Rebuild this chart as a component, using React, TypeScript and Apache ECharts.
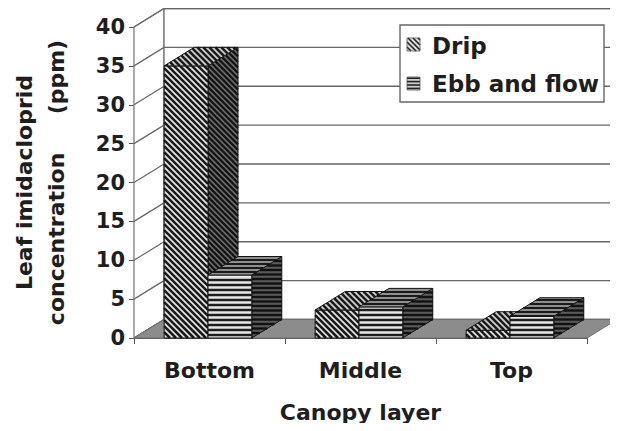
import React, { useEffect, useRef } from "react";
import * as echarts from "echarts";

const categories = ["Bottom", "Middle", "Top"];
const dripValues = [35, 3.6, 1.0];
const ebbValues = [8.1, 4.0, 2.8];
const yTicks = [0, 5, 10, 15, 20, 25, 30, 35, 40];
const seriesNames = ["Drip", "Ebb and flow"];

const DX = 30;
const DY = -18.5;
const FONT = "DejaVu Sans";

type Pt = [number, number];

function clipLine(poly: Pt[], p0: Pt, d: Pt): [number, number] | null {
  let cx = 0, cy = 0;
  poly.forEach((p) => { cx += p[0]; cy += p[1]; });
  cx /= poly.length; cy /= poly.length;
  let t0 = -1e9, t1 = 1e9;
  for (let i = 0; i < poly.length; i++) {
    const a = poly[i];
    const b = poly[(i + 1) % poly.length];
    let nx = -(b[1] - a[1]);
    let ny = b[0] - a[0];
    if (nx * (cx - a[0]) + ny * (cy - a[1]) < 0) { nx = -nx; ny = -ny; }
    const num = nx * (p0[0] - a[0]) + ny * (p0[1] - a[1]);
    const den = nx * d[0] + ny * d[1];
    if (Math.abs(den) < 1e-9) {
      if (num < 0) return null;
    } else {
      const t = -num / den;
      if (den > 0) t0 = Math.max(t0, t); else t1 = Math.min(t1, t);
    }
  }
  if (t1 <= t0) return null;
  return [t0, t1];
}

function hatch(poly: Pt[], kind: "diag" | "horiz", step: number, color: string, width: number) {
  const out: any[] = [];
  const d: Pt = kind === "diag" ? [1, 1] : [1, 0];
  const vals = poly.map((p) => (kind === "diag" ? p[1] - p[0] : p[1]));
  const lo = Math.min(...vals), hi = Math.max(...vals);
  for (let c = Math.ceil(lo / step) * step; c <= hi; c += step) {
    const p0: Pt = [0, c];
    const r = clipLine(poly, p0, d);
    if (!r) continue;
    out.push({
      type: "line",
      shape: { x1: p0[0] + d[0] * r[0], y1: p0[1] + d[1] * r[0], x2: p0[0] + d[0] * r[1], y2: p0[1] + d[1] * r[1] },
      style: { stroke: color, lineWidth: width },
      silent: true,
    });
  }
  return out;
}

function face(poly: Pt[], bg: string, kind: "diag" | "horiz", step: number, lineColor: string, lw: number, edge = "#111", edgeW = 1) {
  return [
    { type: "polygon", shape: { points: poly }, style: { fill: bg, stroke: "none" } },
    ...hatch(poly, kind, step, lineColor, lw),
    { type: "polygon", shape: { points: poly }, style: { fill: "none", stroke: edge, lineWidth: edgeW } },
  ];
}

function makeBarRender(sIdx: number) {
  return (params: any, api: any) => {
    const i = api.value(0);
    const v = api.value(1);
    const base = api.coord([i, 0]);
    const topP = api.coord([i, v]);
    const band = api.size([1, 0])[0];
    const w = band * 0.29;
    const x0 = base[0] - band / 2 + band * 0.2 + sIdx * w;
    const x1 = x0 + w;
    const y0 = base[1];
    const y1 = topP[1];
    const front: Pt[] = [[x0, y1], [x1, y1], [x1, y0], [x0, y0]];
    const top: Pt[] = [[x0, y1], [x1, y1], [x1 + DX, y1 + DY], [x0 + DX, y1 + DY]];
    const side: Pt[] = [[x1, y1], [x1 + DX, y1 + DY], [x1 + DX, y0 + DY], [x1, y0]];
    let children: any[];
    if (sIdx === 0) {
      children = [
        ...face(side, "#6a6a6a", "diag", 5.5, "#111", 2.2),
        ...face(front, "#e6e6e6", "diag", 6, "#1a1a1a", 2.5),
        ...face(top, "#d0d0d0", "diag", 6, "#1a1a1a", 2.5),
      ];
    } else {
      children = [
        ...face(side, "#5a5a5a", "horiz", 4.5, "#111", 2.4),
        ...face(front, "#e8e8e8", "horiz", 5, "#1e1e1e", 2.7),
        ...face(top, "#8f8f8f", "horiz", 4, "#1a1a1a", 2),
      ];
    }
    return { type: "group", children };
  };
}

function wallsRender(params: any, api: any) {
  const cs = params.coordSys;
  const fx = cs.x;
  const W = cs.width;
  const y0 = api.coord([0, yTicks[0]])[1];
  const yTop = api.coord([0, yTicks[yTicks.length - 1]])[1];
  const children: any[] = [];
  children.push({
    type: "polygon",
    shape: { points: [[fx, yTop], [fx + DX, yTop + DY], [fx + DX, y0 + DY], [fx, y0]] },
    style: { fill: "#fff", stroke: "#777", lineWidth: 1.2 },
  });
  children.push({
    type: "rect",
    shape: { x: fx + DX, y: yTop + DY, width: W - 4, height: y0 - yTop },
    style: { fill: "#fff", stroke: "#777", lineWidth: 1.4 },
  });
  yTicks.forEach((t) => {
    const y = api.coord([0, t])[1];
    children.push({
      type: "line",
      shape: { x1: fx + DX, y1: y + DY, x2: fx + DX + W - 4, y2: y + DY },
      style: { stroke: "#666", lineWidth: 1.4 },
    });
    children.push({
      type: "line",
      shape: { x1: fx, y1: y, x2: fx + DX, y2: y + DY },
      style: { stroke: "#666", lineWidth: 1.2 },
    });
  });
  children.push({
    type: "polygon",
    shape: { points: [[fx, y0], [fx + W, y0], [fx + W + DX, y0 + DY], [fx + DX, y0 + DY]] },
    style: { fill: "#8c8c8c", stroke: "#6e6e6e", lineWidth: 1 },
  });
  return { type: "group", children };
}

function legendGraphic() {
  const sw = (x: number, y: number, kind: "diag" | "horiz") =>
    face([[x, y], [x + 13, y], [x + 13, y + 13], [x, y + 13]], kind === "diag" ? "#dcdcdc" : "#cfcfcf", kind, kind === "diag" ? 5 : 3.4, "#222", 1.6, "#555", 0.8);
  const els: any[] = [
    { type: "rect", shape: { x: 400, y: 25, width: 204, height: 77 }, style: { fill: "#fff", stroke: "#666", lineWidth: 1.4 } },
    ...sw(407, 38, "diag"),
    ...sw(407, 77, "horiz"),
    { type: "text", x: 432, y: 46, style: { text: seriesNames[0], font: `bold 23px "${FONT}"`, fill: "#1e1e1e", verticalAlign: "middle", align: "left" } },
    { type: "text", x: 432, y: 84, style: { text: seriesNames[1], font: `bold 23px "${FONT}"`, fill: "#1e1e1e", verticalAlign: "middle", align: "left" } },
  ];
  return els.map((e, k) => ({ ...e, z: 100 + k }));
}

export default function App() {
  const ref = useRef<HTMLDivElement>(null);
  useEffect(() => {
    if (!ref.current) return;
    const chart = echarts.init(ref.current, null, { renderer: "svg" });
    chart.setOption({
      animation: false,
      backgroundColor: "#fff",
      grid: { left: 128, right: 31, top: 27, bottom: 93, containLabel: false },
      xAxis: {
        type: "category",
        data: categories,
        name: "Canopy layer",
        nameLocation: "middle",
        nameGap: 63,
        nameTextStyle: { fontFamily: FONT, fontWeight: "bold", fontSize: 22, color: "#1e1e1e" },
        axisLine: { show: true, lineStyle: { color: "#555", width: 1 } },
        axisTick: { show: true, length: 6, lineStyle: { color: "#555" } },
        axisLabel: { fontFamily: FONT, fontWeight: "bold", fontSize: 22, color: "#1e1e1e", margin: 21 },
        splitLine: { show: false },
      },
      yAxis: {
        type: "value",
        min: 0,
        max: 40,
        interval: 5,
        name: "Leaf imidacloprid\nconcentration     (ppm)",
        nameLocation: "middle",
        nameRotate: 90,
        nameGap: 62,
        nameTextStyle: { fontFamily: FONT, fontWeight: "bold", fontSize: 22, color: "#1e1e1e", lineHeight: 32 },
        axisLine: { show: true, lineStyle: { color: "#555", width: 1.2 } },
        axisTick: { show: true, length: 5, lineStyle: { color: "#555" } },
        axisLabel: { fontFamily: FONT, fontWeight: "bold", fontSize: 21, color: "#1e1e1e", margin: 9 },
        splitLine: { show: false },
      },
      graphic: legendGraphic(),
      series: [
        { type: "custom", name: "walls", z: 1, clip: false, silent: true, data: [[0, 0]], encode: { x: 0, y: 1 }, renderItem: wallsRender },
        { type: "custom", name: seriesNames[0], z: 2, clip: false, data: dripValues.map((v, i) => [i, v]), encode: { x: 0, y: 1 }, renderItem: makeBarRender(0) },
        { type: "custom", name: seriesNames[1], z: 3, clip: false, data: ebbValues.map((v, i) => [i, v]), encode: { x: 0, y: 1 }, renderItem: makeBarRender(1) },
      ],
    });
    return () => chart.dispose();
  }, []);
  return <div ref={ref} style={{ width: 618, height: 431, margin: -8 }} />;
}
